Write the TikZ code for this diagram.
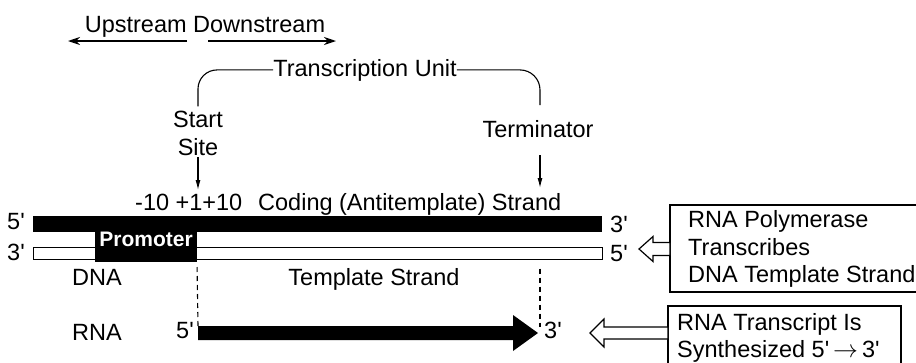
\documentclass[tikz,border=0pt]{standalone}
\usepackage{fontspec}
\setmainfont{Liberation Sans}
\usetikzlibrary{positioning}
\usetikzlibrary{arrows.meta}
\usetikzlibrary{calc}
\newcommand{\pr}{\textquotesingle}

\begin{document}
\begin{tikzpicture}[x=1pt,y=-1pt]
\tikzstyle{txt} = [font=\fontsize{23.5}{28}\selectfont, inner sep=0pt, anchor=base]
\tikzstyle{ltxt} = [txt, anchor=base west]
\tikzstyle{line} = [draw, line width=1.1pt, -{Latex[length=10pt,width=5pt]}]
\tikzstyle{dirline} = [draw, line width=1.4pt, -{Stealth[length=12pt,width=8pt]}]
\tikzstyle{bracket} = [draw, line width=1.1pt]
\tikzstyle{guide} = [draw, line width=1.1pt, dash pattern=on 5pt off 4pt]
\tikzstyle{codebar} = [fill=black, inner sep=0pt, outer sep=0pt, minimum width=569pt, minimum height=16pt]
\tikzstyle{tempbar} = [draw, line width=1.2pt, fill=white, inner sep=0pt, outer sep=0pt, minimum width=569pt, minimum height=12pt]
\tikzstyle{promo} = [fill=black, inner sep=0pt, outer sep=0pt, minimum width=102pt, minimum height=31pt]
\tikzstyle{infobox} = [draw, line width=1.3pt, anchor=north west, inner sep=0pt, outer sep=0pt]
\tikzstyle{hollow} = [draw, line width=1.2pt, fill=white, line join=miter]

\useasboundingbox (0,0) rectangle (916,362);

% upstream / downstream
\node [txt] (updown) at (205,32) {Upstream Downstream};
\coordinate (upA) at (187,41);
\coordinate (upL) at (68,41);
\coordinate (dnA) at (208,41);
\coordinate (dnR) at (336,41);
\path [dirline] (upA) -- (upL);
\path [dirline] (dnA) -- (dnR);

% transcription unit
\node [txt] (tu) at (365,76) {Transcription Unit};
\node [txt] (start) at (198,127) {Start};
\node [txt] (site) at (198,155) {Site};
\node [txt] (term) at (538,137) {Terminator};
\coordinate (tss) at (198,190);
\coordinate (tts) at (540,188);
\coordinate (termtop) at (540,105);
\path [bracket, rounded corners=19pt] ([yshift=4pt]start.north) |- (tu.west);
\path [bracket, rounded corners=20pt] (tu.east) -| (termtop);
\path [line] ([yshift=-2pt]site.south) -- (tss);
\path [line] ($(tts |- term.south)+(0,18)$) -- (tts);

% DNA
\node [ltxt] (pos) at (135,210) {-10 +1+10};
\node [ltxt] (coding) at (258,210) {Coding (Antitemplate) Strand};
\node [codebar] (cod) at (317.5,223.5) {};
\node [tempbar] (tmp) at (318,253.5) {};
\node [promo] (prom) at (146,246.5) {};
\node [txt, font=\fontsize{21}{24}\selectfont\bfseries, text=white] (promlbl) at (146,246) {Promoter};
\node [ltxt] (c5) at (7,229) {5\pr};
\node [ltxt] (t3) at (7,260) {3\pr};
\node [ltxt] (c3) at (610,232) {3\pr};
\node [ltxt] (t5) at (610,261) {5\pr};
\node [ltxt] (dna) at (72,285) {DNA};
\node [txt] (tmplbl) at (374,285) {Template Strand};

% RNA
\node [ltxt] (rna) at (72,340) {RNA};
\coordinate (rnaS) at (198,333);
\coordinate (rnaE) at (538,333);
\node [ltxt] (r5) at (176,338) {5\pr};
\node [ltxt] (r3) at (544,338) {3\pr};
\fill (rnaS) ++(0,-7) -- ++(315,0) -- ++(0,-11) -- (rnaE) -- ++(-25,18) -- ++(0,-11) -- ++(-315,0) -- cycle;
\path [guide, shorten <=5pt] (prom.south east) -- ($(rnaS)+(0,-7)$);
\path [guide, shorten <=9pt] (tts |- tmp.south) -- ($(rnaE)+(2,-6)$);

% boxes
\node [infobox, minimum width=270pt, minimum height=87pt] (polbox) at (670,205) {};
\node [ltxt] (pol1) at (688,227) {RNA Polymerase};
\node [ltxt] (pol2) at (688,255) {Transcribes};
\node [ltxt] (pol3) at (688,282) {DNA Template Strand};
\node [infobox, minimum width=233pt, minimum height=70pt] (synbox) at (668,306) {};
\node [ltxt] (syn1) at (677,330) {RNA Transcript Is};
\node [ltxt] (syn2) at (677,357.5) {Synthesized 5\pr\,$\rightarrow$\,3\pr};
\coordinate (h1tip) at (639,249);
\coordinate (h2tip) at (590,333);
\path [hollow] (h1tip) -- ++(14,-12.5) -- ++(0,6) -- ++(17,0) -- ++(0,13) -- ++(-17,0) -- ++(0,6) -- cycle;
\path [hollow] (h2tip) -- ++(14,-14) -- ++(0,8) -- ++(64,0) -- ++(0,12) -- ++(-64,0) -- ++(0,8) -- cycle;
\end{tikzpicture}
\end{document}
